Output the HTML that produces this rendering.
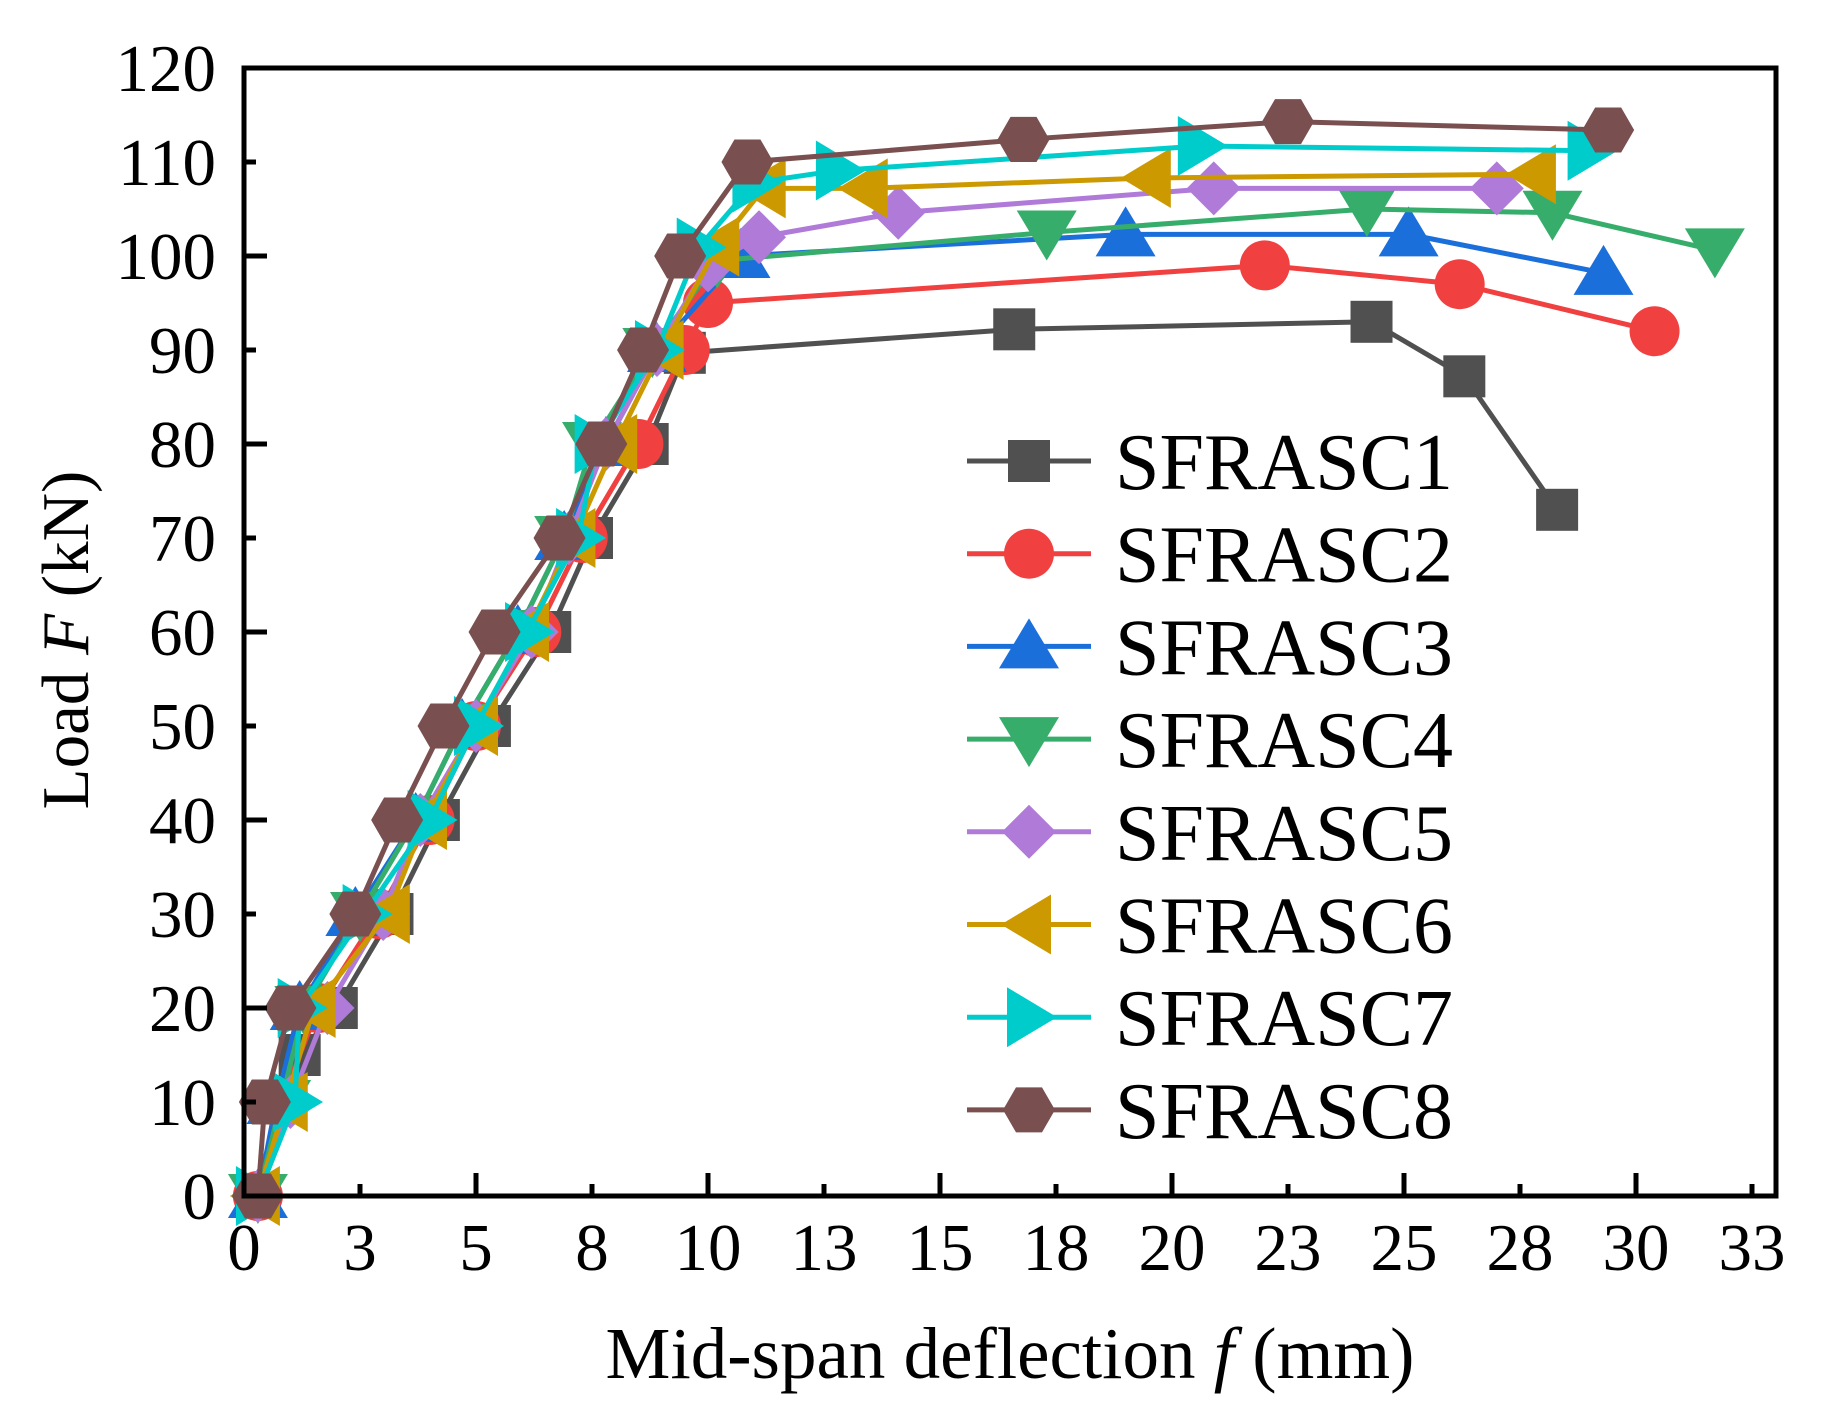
<!DOCTYPE html>
<html><head><meta charset="utf-8"><style>
html,body{margin:0;padding:0;background:#fff;}
svg{display:block;font-family:"Liberation Serif","Times New Roman",serif;}
</style></head><body>
<svg id="chart" width="1828" height="1413" viewBox="0 0 1828 1413" xmlns="http://www.w3.org/2000/svg">
<rect x="0" y="0" width="1828" height="1413" fill="#fff"/>
<g id="series"></g>
<g id="axes"></g>
<g id="legend"></g>
<text x="1010" y="1378" font-size="73" text-anchor="middle">Mid-span deflection <tspan font-style="italic">f</tspan>  (mm)</text>
<text transform="translate(88,640) rotate(-90)" font-size="67" text-anchor="middle">Load  <tspan font-style="italic">F</tspan> (kN)</text>
</svg>
<script>
const xTickVals=[0,2.5,5,7.5,10,12.5,15,17.5,20,22.5,25,27.5,30,32.5];
const xTickLabels=["0","3","5","8","10","13","15","18","20","23","25","28","30","33"];
const yTickVals=[0,10,20,30,40,50,60,70,80,90,100,110,120];
const seriesNames=["SFRASC1","SFRASC2","SFRASC3","SFRASC4","SFRASC5","SFRASC6","SFRASC7","SFRASC8"];
const s1x=[0.3,0.9,1.2,2.0,3.2,4.2,5.3,6.6,7.5,8.7,9.5,16.6,24.3,26.3,28.3];
const s1y=[0,10,15,20,30,40,50,60,70,80,89.7,92.2,93,87.2,73];
const s2x=[0.3,0.8,1.6,2.9,4.0,5.0,6.3,7.3,8.5,9.5,10.0,22.0,26.2,30.4];
const s2y=[0,10,20,30,40,50,60,70,80,90,95,99,97,92];
const s3x=[0.3,0.7,1.2,2.4,3.7,4.7,5.9,6.9,7.8,8.9,10.7,19.0,25.1,29.3];
const s3y=[0,10,20,30,40,50,60,70,80,90,100,102.3,102.3,98.2];
const s4x=[0.3,0.8,1.3,2.5,3.7,4.7,5.9,6.9,7.5,8.8,10.2,17.3,24.2,28.2,31.7];
const s4y=[0,10,20,30,40,50,60,70,80,90,99.5,102.5,105,104.6,100.6];
const s5x=[0.3,1.0,1.8,3.0,3.8,5.0,6.2,7.0,7.8,8.9,10.0,11.1,14.1,20.9,27.0];
const s5y=[0,10,20,30,40,50,60,70,80,90,99,102,104.6,107.2,107.2];
const s6x=[0.3,0.9,1.5,3.1,3.9,5.0,6.1,7.1,8.0,9.0,10.2,11.2,13.4,19.5,27.8];
const s6y=[0,10,20,30,40,50,60,70,80,90,101,107.2,107.2,108.3,108.7];
const s7x=[0.3,1.1,1.2,2.6,4.0,5.0,6.1,7.2,7.6,8.9,9.8,11.0,12.8,20.6,29.0];
const s7y=[0,10,20,30,40,50,60,70,80,90,100.9,107.8,109.1,111.7,111.2];
const s8x=[0.3,0.45,1.0,2.4,3.3,4.3,5.4,6.8,7.7,8.6,9.4,10.85,16.8,22.5,29.4];
const s8y=[0,10,20,30,40,50,60,70,80,90,100,110,112.4,114.3,113.4];

const X0=244,XS=46.4,Y0=1196,YS=9.4;
const sx=v=>X0+v*XS, sy=v=>Y0-v*YS;
const NS="http://www.w3.org/2000/svg";
function mk(tag,attrs,parent){const e=document.createElementNS(NS,tag);for(const k in attrs)e.setAttribute(k,attrs[k]);parent.appendChild(e);return e;}
const colors=["#505050","#f04040","#1a6fdb","#37ad6b","#b07ad9","#cc9900","#00cccc","#7a4f4f"];
const shapes=["square","circle","up","down","diamond","left","right","hex"];
function marker(shape,cx,cy,col,parent){
  let e;
  if(shape==="square"){e=mk('rect',{x:cx-21,y:cy-21,width:42,height:42,fill:col},parent);}
  else if(shape==="circle"){e=mk('circle',{cx:cx,cy:cy,r:25,fill:col},parent);}
  else{
    let p;
    if(shape==="up")p=[[0,-28],[30,22],[-30,22]];
    else if(shape==="down")p=[[0,28],[30,-22],[-30,-22]];
    else if(shape==="left")p=[[-28,0],[22,-30],[22,30]];
    else if(shape==="right")p=[[28,0],[-22,-30],[-22,30]];
    else if(shape==="diamond")p=[[0,-27],[27,0],[0,27],[-27,0]];
    else {p=[];for(let i=0;i<6;i++){const a=Math.PI/6+i*Math.PI/3;p.push([26*Math.sin(a),26*Math.cos(a)]);}}
    e=mk('polygon',{points:p.map(q=>(cx+q[0])+','+(cy+q[1])).join(' '),fill:col},parent);
  }
  return e;
}
const allX=[s1x,s2x,s3x,s4x,s5x,s6x,s7x,s8x], allY=[s1y,s2y,s3y,s4y,s5y,s6y,s7y,s8y];
const sg=document.getElementById('series');
for(let i=0;i<8;i++){
  const g=mk('g',{},sg);
  
  
  const xs=allX[i],ys=allY[i];
  const pl=mk('polyline',{points:xs.map((v,j)=>sx(v)+','+sy(ys[j])).join(' '),fill:'none',stroke:colors[i],'stroke-width':5,'stroke-linejoin':'round'},g);
  
  
  for(let j=0;j<xs.length;j++){
    const m=marker(shapes[i],sx(xs[j]),sy(ys[j]),colors[i],g);
    
    
  }
}
const ax=document.getElementById('axes');
const frame=mk('rect',{x:244,y:68,width:1532,height:1128,fill:'none',stroke:'#000','stroke-width':5},ax);


xTickVals.forEach((v,i)=>{
  const major=(i%2===0);
  const t=mk('line',{x1:sx(v),x2:sx(v),y1:Y0,y2:Y0-(major?23:12),stroke:'#000','stroke-width':5},ax);
  
  
  const l=mk('text',{x:sx(v),y:1270,'font-size':67,'text-anchor':'middle'},ax);
  l.textContent=xTickLabels[i];
  
  
});
yTickVals.forEach((v,i)=>{
  const major=(i%2===0);
  const t=mk('line',{x1:X0,x2:X0+(major?23:12),y1:sy(v),y2:sy(v),stroke:'#000','stroke-width':5},ax);
  
  
  const l=mk('text',{x:216,y:sy(v)+23,'font-size':67,'text-anchor':'end'},ax);
  l.textContent=String(v);
  
  
});
const lg=document.getElementById('legend');
for(let i=0;i<8;i++){
  const cy=461+i*92.7;
  const g=mk('g',{},lg);
  
  
  mk('line',{x1:967,x2:1091,y1:cy,y2:cy,stroke:colors[i],'stroke-width':5},g);
  marker(shapes[i],1029,cy,colors[i],g);
  const t=mk('text',{x:1115,y:cy+28,'font-size':80},g);
  t.textContent=seriesNames[i];
}
</script>
</body></html>
